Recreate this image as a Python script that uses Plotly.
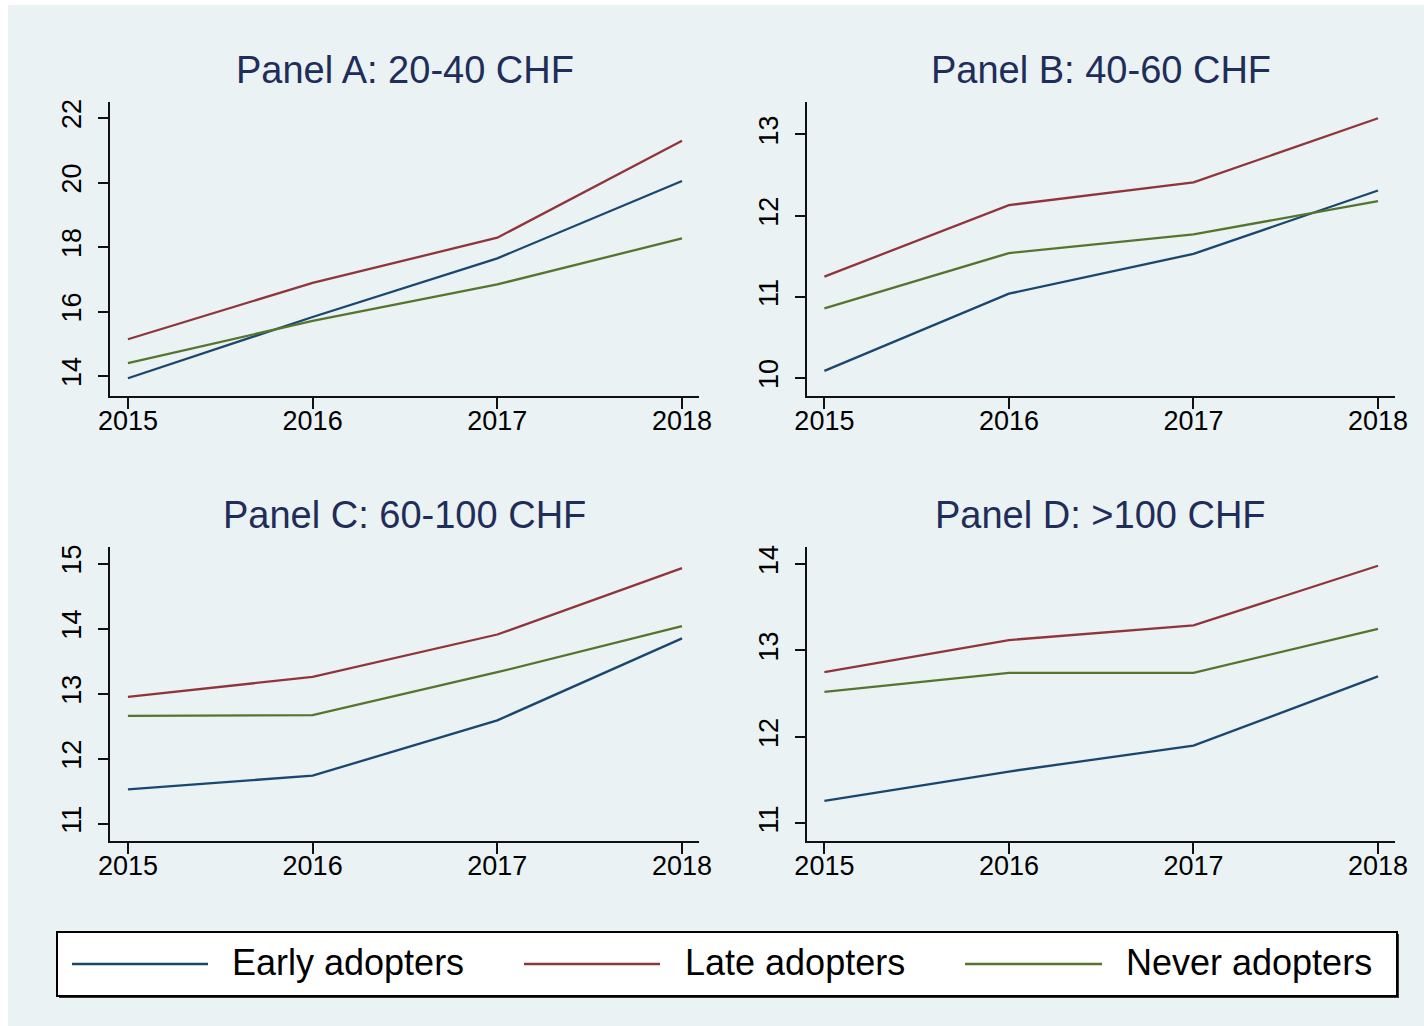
import plotly.graph_objects as go

years = [2015, 2016, 2017, 2018]
panel_titles = ["Panel A: 20-40 CHF", "Panel B: 40-60 CHF", "Panel C: 60-100 CHF", "Panel D: >100 CHF"]
series_names = ["Early adopters", "Late adopters", "Never adopters"]

early_a = [13.93, 15.83, 17.65, 20.05]
late_a = [15.14, 16.89, 18.29, 21.30]
never_a = [14.40, 15.71, 16.84, 18.27]

early_b = [10.09, 11.04, 11.53, 12.31]
late_b = [11.25, 12.13, 12.41, 13.20]
never_b = [10.86, 11.54, 11.77, 12.18]

early_c = [11.53, 11.74, 12.59, 13.85]
late_c = [12.95, 13.26, 13.91, 14.93]
never_c = [12.66, 12.67, 13.33, 14.04]

early_d = [11.26, 11.60, 11.90, 12.70]
late_d = [12.75, 13.12, 13.29, 13.98]
never_d = [12.52, 12.74, 12.74, 13.25]

yticks_a = [14, 16, 18, 20, 22]
yticks_b = [10, 11, 12, 13]
yticks_c = [11, 12, 13, 14, 15]
yticks_d = [11, 12, 13, 14]

yranges = [[13.38, 22.5], [9.78, 13.40], [10.74, 15.26], [10.80, 14.20]]

colors = ["#1A476F", "#90353B", "#55752F"]
bg = "#EAF2F3"
title_color = "#1F2D5A"
font_family = "Liberation Sans, Arial, sans-serif"

W, H = 1424, 1026
xdom_left = [110 / W, 699 / W]
xdom_right = [806.5 / W, 1395 / W]
ydom_top = [1 - 396 / H, 1 - 102 / H]
ydom_bot = [1 - 840.7 / H, 1 - 546.7 / H]
domains = [(xdom_left, ydom_top), (xdom_right, ydom_top), (xdom_left, ydom_bot), (xdom_right, ydom_bot)]

panels = [
    (early_a, late_a, never_a, yticks_a),
    (early_b, late_b, never_b, yticks_b),
    (early_c, late_c, never_c, yticks_c),
    (early_d, late_d, never_d, yticks_d),
]

fig = go.Figure()
layout = dict(
    template="none",
    width=W, height=H,
    autosize=False,
    margin=dict(l=0, r=0, t=0, b=0, pad=0, autoexpand=False),
    paper_bgcolor="white",
    plot_bgcolor="white",
    showlegend=False,
    font=dict(family=font_family, color="black"),
)

shapes = [
    dict(type="rect", xref="paper", yref="paper", x0=8 / W, x1=1, y0=0, y1=1 - 5 / H,
         fillcolor=bg, line=dict(width=0), layer="below"),
]
annotations = []

for i, (pe, pl, pn, yt) in enumerate(panels):
    k = "" if i == 0 else str(i + 1)
    xa, ya = "x" + k, "y" + k
    for vals, name, col in zip([pe, pl, pn], series_names, colors):
        fig.add_trace(go.Scatter(x=years, y=vals, mode="lines", name=name,
                                 line=dict(color=col, width=2.3),
                                 xaxis=xa, yaxis=ya, showlegend=False))
    xd, yd = domains[i]
    layout["xaxis" + k] = dict(
        domain=xd, anchor=ya, range=[2014.903, 2018.092], automargin=False,
        tickvals=years, ticktext=[str(y) for y in years],
        showgrid=False, zeroline=False, showline=True, linecolor="#111111", linewidth=2,
        ticks="outside", ticklen=11, tickwidth=1.5, tickcolor="#111111",
        ticklabelstandoff=-11,
        tickfont=dict(size=27, color="black", family=font_family),
    )
    layout["yaxis" + k] = dict(
        domain=yd, anchor=xa, range=yranges[i], automargin=False,
        tickvals=yt, ticktext=[str(v) for v in yt],
        showgrid=True, gridcolor=bg, gridwidth=2.5, zeroline=False,
        showline=True, linecolor="#111111", linewidth=2,
        ticks="outside", ticklen=10, tickwidth=1.5, tickcolor="#111111",
        tickangle=-90, ticklabelstandoff=6,
        tickfont=dict(size=27, color="black", family=font_family),
    )
    annotations.append(dict(
        text=panel_titles[i], xref="paper", yref="paper",
        x=(xd[0] + xd[1]) / 2, y=yd[1] + 32 / H,
        xanchor="center", yanchor="middle", showarrow=False,
        font=dict(size=38, color=title_color, family=font_family),
    ))

# Legend box (drawn manually to match the long line samples)
leg_x0, leg_x1 = 57 / W, 1397 / W
leg_y0, leg_y1 = 1 - 996 / H, 1 - 932 / H
shapes.append(dict(type="rect", xref="paper", yref="paper", x0=leg_x0 + 2 / W, x1=leg_x1 + 2 / W,
                   y0=leg_y0 - 2 / H, y1=leg_y1 - 2 / H, fillcolor="#333333", line=dict(width=0)))
shapes.append(dict(type="rect", xref="paper", yref="paper", x0=leg_x0, x1=leg_x1,
                   y0=leg_y0, y1=leg_y1, fillcolor="white", line=dict(color="black", width=2)))
leg_items = [(72, 208, 230), (524, 660, 683), (965, 1102, 1124)]
leg_yc = 1 - 964 / H
for (lx0, lx1, tx), name, col in zip(leg_items, series_names, colors):
    shapes.append(dict(type="line", xref="paper", yref="paper", x0=lx0 / W, x1=lx1 / W,
                       y0=leg_yc, y1=leg_yc, line=dict(color=col, width=2.5)))
    annotations.append(dict(text=name, xref="paper", yref="paper", x=tx / W, y=leg_yc + 1 / H,
                            xanchor="left", yanchor="middle", showarrow=False,
                            font=dict(size=36, color="black", family=font_family)))

layout["shapes"] = shapes
layout["annotations"] = annotations
fig.update_layout(**layout)
fig.write_html(
    "out.html",
    config={"displayModeBar": False, "responsive": False},
    post_script="document.body.style.margin='0';document.body.style.overflow='hidden';",
)
